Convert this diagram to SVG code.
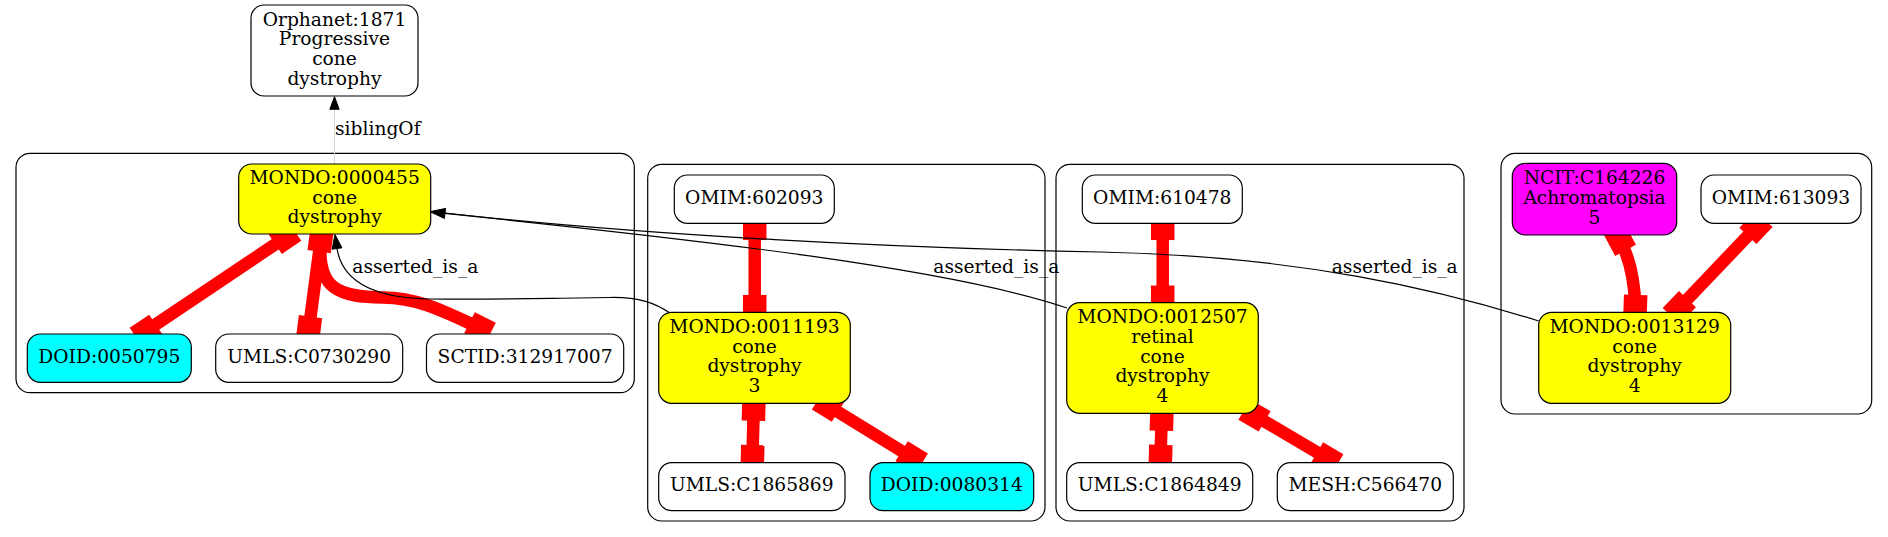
<svg xmlns="http://www.w3.org/2000/svg" width="1888" height="537" viewBox="0 0 1888 537">
<style>
text{font-family:"DejaVu Serif","Liberation Serif",serif;font-size:18.67px;text-anchor:middle;fill:#000}
.lbl{text-anchor:start}
.cl{fill:none;stroke:#000;stroke-width:1.2}
.nd{stroke:#000;stroke-width:1.2}
.w{fill:#fff}.y{fill:#ffff00}.c{fill:#00ffff}.m{fill:#ff00ff}
.re{fill:none;stroke:#ff0000;stroke-width:12.5}
.rb{fill:#ff0000}
.bl{fill:none;stroke:#000;stroke-width:1.2}
.ah{fill:#000;stroke:#000;stroke-width:1}
</style>
<defs>
<rect id="sq" x="-11.75" y="-11.75" width="23.5" height="23.5"/>
</defs>
<rect width="1888" height="537" fill="#fff"/>
<g id="clusters">
<rect class="cl" x="16" y="153.3" width="618.3" height="239.4" rx="14"/>
<rect class="cl" x="647.7" y="164.3" width="397.3" height="356.7" rx="14"/>
<rect class="cl" x="1056" y="164.3" width="408" height="356.7" rx="14"/>
<rect class="cl" x="1501" y="153.3" width="370.7" height="260.7" rx="14"/>
</g>
<g id="connectors">
<g id="sibling">
<line x1="334.5" y1="163.7" x2="334.5" y2="109" stroke="#d4d4d4" stroke-width="1"/>
<polygon class="ah" points="334.5,96.7 339.2,109.3 329.8,109.3"/>
<text class="lbl" x="335" y="135">siblingOf</text>
</g>
<g id="red" class="rb">
<path class="re" d="M285 237.7 L146 331"/>
<use href="#sq" transform="translate(285 237.7) rotate(56)"/>
<use href="#sq" transform="translate(146 331) rotate(56)"/>
<path class="re" d="M320.7 240 L309 328.3"/>
<use href="#sq" transform="translate(320.7 240) rotate(7.5)"/>
<use href="#sq" transform="translate(309 328.3) rotate(7.5)"/>
<path class="re" d="M321 240 C316 290 340 297 383 297.5 C420 298 445 312 480 328"/>
<use href="#sq" transform="translate(480 328) rotate(27)"/>
<path class="re" d="M754.7 228.3 L754.7 306.7"/>
<use href="#sq" transform="translate(754.7 228.3)"/>
<use href="#sq" transform="translate(754.7 306.7)"/>
<path class="re" d="M753.7 409 L752.5 456.7"/>
<use href="#sq" transform="translate(753.7 409) rotate(1.4)"/>
<use href="#sq" transform="translate(752.5 456.7) rotate(1.4)"/>
<path class="re" d="M828 405.7 L911.7 457.3"/>
<use href="#sq" transform="translate(828 405.7) rotate(31.7)"/>
<use href="#sq" transform="translate(911.7 457.3) rotate(31.7)"/>
<path class="re" d="M1162.7 228.3 L1162.7 297.3"/>
<use href="#sq" transform="translate(1162.7 228.3)"/>
<use href="#sq" transform="translate(1162.7 297.3)"/>
<path class="re" d="M1161.7 419 L1160.5 456.7"/>
<use href="#sq" transform="translate(1161.7 419) rotate(1.8)"/>
<use href="#sq" transform="translate(1160.5 456.7) rotate(1.8)"/>
<path class="re" d="M1254.5 415.5 L1327.3 458.3"/>
<use href="#sq" transform="translate(1254.5 415.5) rotate(30.5)"/>
<use href="#sq" transform="translate(1327.3 458.3) rotate(30.5)"/>
<path class="re" d="M1620 240 Q1634 266 1635.3 306.7"/>
<use href="#sq" transform="translate(1620 240) rotate(62)"/>
<use href="#sq" transform="translate(1635.3 306.7) rotate(2)"/>
<path class="re" d="M1756 227.3 L1679.3 307.7"/>
<use href="#sq" transform="translate(1756 227.3) rotate(43.6)"/>
<use href="#sq" transform="translate(1679.3 307.7) rotate(43.6)"/>
</g>
<g id="isa">
<path class="bl" d="M670 313 C655 303 640 297 610 297.5 C550 298 500 300 430 299 C370 298 342 280 337 248.5"/>
<polygon class="ah" points="335,234.5 341.9,247.8 332.1,249.2"/>
<text class="lbl" x="352.3" y="273.3">asserted_is_a</text>
<path class="bl" d="M1067 308 C950 268 700 240 445 213.4"/>
<text class="lbl" x="933.3" y="273.3">asserted_is_a</text>
<path class="bl" d="M1538.7 321 C1440 290 1300 256 1100 252 C900 248 650 236 445 213"/>
<text class="lbl" x="1331.7" y="273.3">asserted_is_a</text>
<polygon class="ah" points="430,211.7 445.6,208.4 444.4,218.4"/>
</g>
</g>
<g id="n_orphanet"><rect class="nd w" x="251" y="5" width="167" height="91" rx="13"/>
<text x="334.5" y="25.7">Orphanet:1871</text><text x="334.5" y="45.4">Progressive</text><text x="334.5" y="65.1">cone</text><text x="334.5" y="84.8">dystrophy</text></g>
<g id="n_mondo0000455"><rect class="nd y" x="238.7" y="164" width="192" height="70" rx="13"/>
<text x="334.7" y="184">MONDO:0000455</text><text x="334.7" y="203.7">cone</text><text x="334.7" y="223.4">dystrophy</text></g>
<g id="n_doid0050795"><rect class="nd c" x="27.3" y="334" width="164" height="48.3" rx="13"/>
<text x="109.3" y="362.9">DOID:0050795</text></g>
<g id="n_umlsc0730290"><rect class="nd w" x="215.7" y="334" width="187" height="48.3" rx="13"/>
<text x="309.2" y="362.9">UMLS:C0730290</text></g>
<g id="n_sctid312917007"><rect class="nd w" x="426.5" y="334" width="197.2" height="48.3" rx="13"/>
<text x="525.1" y="362.9">SCTID:312917007</text></g>
<g id="n_omim602093"><rect class="nd w" x="674.3" y="175" width="160" height="48.3" rx="13"/>
<text x="754.3" y="203.9">OMIM:602093</text></g>
<g id="n_mondo0011193"><rect class="nd y" x="658.7" y="312.3" width="191.6" height="91" rx="13"/>
<text x="754.5" y="333">MONDO:0011193</text><text x="754.5" y="352.7">cone</text><text x="754.5" y="372.4">dystrophy</text><text x="754.5" y="392.1">3</text></g>
<g id="n_umlsc1865869"><rect class="nd w" x="658.7" y="462.7" width="186.3" height="48" rx="13"/>
<text x="751.8" y="491.4">UMLS:C1865869</text></g>
<g id="n_doid0080314"><rect class="nd c" x="870" y="462.7" width="163.7" height="48" rx="13"/>
<text x="951.8" y="491.4">DOID:0080314</text></g>
<g id="n_omim610478"><rect class="nd w" x="1082.3" y="175" width="160" height="48.3" rx="13"/>
<text x="1162.3" y="203.9">OMIM:610478</text></g>
<g id="n_mondo0012507"><rect class="nd y" x="1066.7" y="302.7" width="191.6" height="110.6" rx="13"/>
<text x="1162.5" y="323.3">MONDO:0012507</text><text x="1162.5" y="343">retinal</text><text x="1162.5" y="362.7">cone</text><text x="1162.5" y="382.4">dystrophy</text><text x="1162.5" y="402.1">4</text></g>
<g id="n_umlsc1864849"><rect class="nd w" x="1066.7" y="462.7" width="186" height="48" rx="13"/>
<text x="1159.7" y="491.4">UMLS:C1864849</text></g>
<g id="n_meshc566470"><rect class="nd w" x="1277.3" y="462.7" width="176" height="48" rx="13"/>
<text x="1365.3" y="491.4">MESH:C566470</text></g>
<g id="n_ncitc164226"><rect class="nd m" x="1512.3" y="163.3" width="164.4" height="71.7" rx="13"/>
<text x="1594.5" y="184.2">NCIT:C164226</text><text x="1594.5" y="203.9">Achromatopsia</text><text x="1594.5" y="223.6">5</text></g>
<g id="n_omim613093"><rect class="nd w" x="1701" y="175" width="160" height="48.3" rx="13"/>
<text x="1781" y="203.9">OMIM:613093</text></g>
<g id="n_mondo0013129"><rect class="nd y" x="1538.7" y="312.3" width="192" height="91" rx="13"/>
<text x="1634.7" y="333">MONDO:0013129</text><text x="1634.7" y="352.7">cone</text><text x="1634.7" y="372.4">dystrophy</text><text x="1634.7" y="392.1">4</text></g>
</svg>
